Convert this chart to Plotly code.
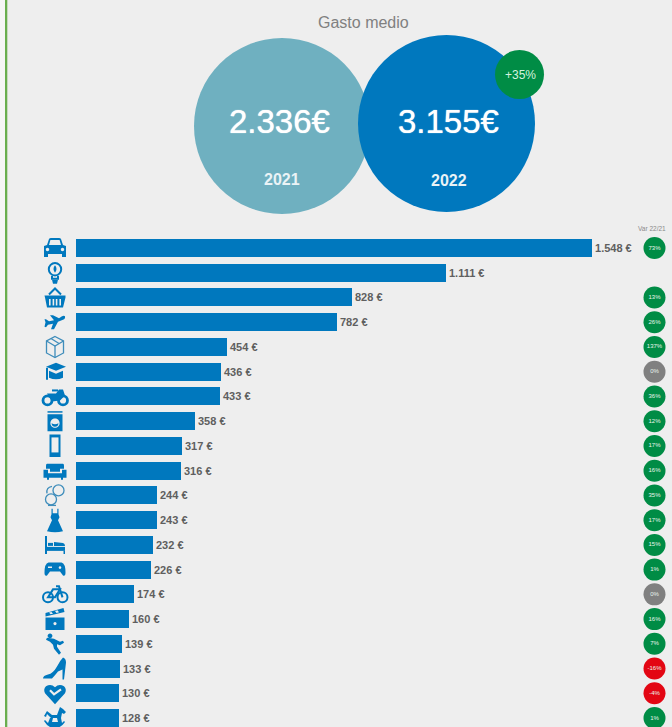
import re
import plotly.graph_objects as go

W, H = 672, 727
FONT = "Liberation Sans"

categories = ["Coche", "Suministros", "Alimentación", "Viajes", "Compras online", "Educación",
              "Moto", "Electrodomésticos", "Móvil", "Hogar", "Bebé", "Ropa", "Dormitorio",
              "Videojuegos", "Bicicleta", "Cine", "Deporte", "Calzado", "Salud", "Juguetes"]
values = [1548, 1111, 828, 782, 454, 436, 433, 358, 317, 316, 244, 243, 232, 226, 174, 160, 139, 133, 130, 128]
variation = [73, None, 13, 26, 137, 0, 36, 12, 17, 16, 35, 17, 15, 1, 0, 16, 7, -16, -4, 1]
years = ["2021", "2022"]
totals = ["2.336€", "3.155€"]

BLUE = "#0078BE"
TEAL = "#6FB0C0"
GREEN = "#008C45"
GREY = "#808080"
RED = "#E30613"
BG = "#EEEEEE"

# pixel mapping of the axes
PX_PER_EUR = 516 / 1548
X0_PX = 76
ROW0 = 248
ROW = 24.74
x_range = [-X0_PX / PX_PER_EUR, (W - X0_PX) / PX_PER_EUR]
y_range = [(H - ROW0) / ROW, -ROW0 / ROW]


def px_x(px):
    return (px - X0_PX) / PX_PER_EUR


def ring(cx, cy, r):
    k = 0.5523 * r
    return (f"M{cx - r} {cy} C{cx - r} {cy - k} {cx - k} {cy - r} {cx} {cy - r} "
            f"C{cx + k} {cy - r} {cx + r} {cy - k} {cx + r} {cy} "
            f"C{cx + r} {cy + k} {cx + k} {cy + r} {cx} {cy + r} "
            f"C{cx - k} {cy + r} {cx - r} {cy + k} {cx - r} {cy} Z ")


def box(x0, y0, x1, y1):
    return f"M{x0} {y0} L{x1} {y0} L{x1} {y1} L{x0} {y1} Z "


icons = [
    # car
    [("f", "M-11 -2 L-8 -3 L-6 -9 Q-5.5 -10 -4 -10 L4 -10 Q5.5 -10 6 -9 L8 -3 L11 -2 L11 9 L7 9 L7 6 L-7 6 L-7 9 L-11 9 Z "
           "M-4.6 -8 L-6 -3 L6 -3 L4.6 -8 Z " + ring(-7.5, 1.5, 1.7) + ring(7.5, 1.5, 1.7))],
    # bulb
    [("s", ring(0, -3.5, 6.2)), ("s", "M-3 3 L-3 6 L3 6 L3 3"), ("f", "M-3 7 L3 7 L2 11 L-2 11 Z"),
     ("f", "M0 -7.5 Q3 -4 0 0 Q-3 -4 0 -7.5 Z")],
    # basket
    [("f", "M-10.5 -2 L10.5 -2 L10.5 0 L8 10 L-8 10 L-10 0 Z " + box(-6, 1.5, -4.4, 8) + box(-2.4, 1.5, -0.8, 8)
      + box(0.8, 1.5, 2.4, 8) + box(4.4, 1.5, 6, 8)), ("s", "M-6 -3 L0 -9 L6 -3")],
    # plane
    [("f", "M10 -6 Q10.5 -3.5 8 -2.5 L3 -0.5 L-1 7 L-4 7 L-2 1.5 L-7 2.5 L-9 5 L-10.5 4.5 L-9.5 0 L-10.5 -3 L-9 -3 "
           "L-6 -1 L-1 -2 L-5 -7 L-2 -7 L4 -4 L7 -6 Q9 -7 10 -6 Z")],
    # parcel
    [("t", "M0 -10.5 L8.5 -6 L8.5 6 L0 10.5 L-8.5 6 L-8.5 -6 Z"), ("t", "M-8.5 -6 L0 -1 L8.5 -6"), ("t", "M0 -1 L0 10.5"),
     ("t", "M-4 -8.5 L4 -3.5")],
    # graduation cap
    [("f", "M1 -9 L11 -5 L1 -1 L-9 -5 Z"), ("f", "M-6 -1 L1 2 L8 -1 L8 6 Q1 9 -6 6 Z"), ("s", "M-8 -4 L-8 8")],
    # motorcycle
    [("w", ring(-7.5, 4, 4.5)), ("w", ring(8, 4, 4.5)), ("f", "M-8 -3 L1 -3 L4 -7 L8 -7 L10 -1 L5 4 L-3 5 Z"),
     ("f", "M-3 -7 L3 -7 L3 -5 L-3 -5 Z")],
    # washing machine
    [("f", box(-7.5, -7, 7.5, 10) + ring(0, 2, 4.6)), ("f", box(-7.5, -10, 7.5, -8.5)), ("f", "M-3.5 2 Q0 4 3.5 2 Q3 5.5 0 5.5 Q-3 5.5 -3.5 2 Z")],
    # phone
    [("s", box(-4.5, -10.5, 4.5, 10)), ("f", box(-4.5, 6.5, 4.5, 10.5)), ("f", box(-4.5, -10.5, 4.5, -8.5))],
    # sofa
    [("f", "M-8 -7 L8 -7 Q9 -7 9 -5 L9 -2 L5 -2 L5 1 L-5 1 L-5 -2 L-9 -2 L-9 -5 Q-9 -7 -8 -7 Z "),
     ("f", "M-11.5 -1 L-7 -1 L-7 2.5 L7 2.5 L7 -1 L11.5 -1 L11.5 7 L8 7 L8 9 L6 9 L6 7 L-6 7 L-6 9 L-8 9 L-8 7 L-11.5 7 Z")],
    # baby
    [("t", ring(3.5, -5, 5.5)), ("t", ring(-4, 4, 5.5)), ("t", "M-8 -2 Q-9 -8 -3 -9"), ("t", "M-7 10 L1 10")],
    # dress
    [("f", "M-3.5 -11.5 L-3.5 -6 L-4.5 -3 L-3 0 L-8 11 Q0 13 8 11 L3 0 L4.5 -3 L3.5 -6 L3.5 -11.5 L2.3 -11.5 "
           "L2.3 -7 L-2.3 -7 L-2.3 -11.5 Z")],
    # bed
    [("f", box(-10, -9, -8, 9)), ("f", box(-7, -2, -2, 1)), ("f", "M-1 -3 L8 -2 Q10 -1.5 10 1 L-1 1 Z"),
     ("f", box(-8, 2, 10, 6)), ("f", box(8.5, 6, 10, 9))],
    # gamepad
    [("f", "M-6.5 -7 L6.5 -7 Q10.5 -6 10.5 3 Q10.5 7 8 6 L5 2 L-5 2 L-8 6 Q-10.5 7 -10.5 3 Q-10.5 -6 -6.5 -7 Z "
      + box(-7, -3, -3, -1.5) + ring(5, -2, 1.3))],
    # bicycle
    [("s", ring(-7, 3, 5)), ("s", ring(7.5, 3, 5)), ("s", "M-7 3 L-2 -5 L5 -5 L0 3 Z"), ("s", "M7.5 3 L4 -8 L1 -8")],
    # clapperboard
    [("f", box(-9.5, -1.5, 9.5, 11) + ring(0, 4.5, 1.6)),
     ("f", "M-9.5 -6 L8.5 -11 L9.5 -7 L-9.5 -2.5 Z M-6 -6.5 L-4.5 -4.8 L-2 -5.3 L-3.5 -7.2 Z M0 -8 L1.5 -6.2 L4 -6.8 L2.5 -8.8 Z")],
    # runner
    [("f", ring(-5, -8, 2.4)), ("f", "M-8 -6 L-1 -5 L5 -2 L8 -3 L9 -1 L5 1.5 L2 0.5 L2 3 L6 9 L4 11 L-1 5 L-2 1 L-5 -2 L-9 -4 Z")],
    # high heel
    [("f", "M8 -11 Q11 -10 11 -6 L9 11 L7.5 11 L7.5 1 L3 3 Q-1 8 -3 10 L-12 10 Q-12 7 -7 6 Q-2 5 2 -2 Q5 -8 8 -11 Z")],
    # heart with tick
    [("f", "M0 11 L-10 0 Q-12 -4 -9 -7 Q-4 -10 0 -6 Q4 -10 9 -7 Q12 -4 10 0 Z"),
     ("c", "M-5 -3 L-1 1 L6 -4")],
    # rocking horse
    [("f", "M5 -11 L8 -9 L11 -6 L9 -4 L7 -5 L6 0 L-4 0 L-8 -4 L-9 -1 L-11 -2 L-8 -7 L-3 -3 L2 -3 Z"),
     ("f", "M-5 0 L-2 0 L-3 4 L3 4 L2 0 L6 0 L7 5 L9 3 L10 4 Q6 10 0 10 Q-7 10 -11 3 L-10 2 L-7 5 Z")],
]


def flip(path):
    """Icon paths are drawn with y downwards; pixel-sized shapes count y upwards."""
    out = []
    for cmd, nums in re.findall(r"([MLQCZ])([^MLQCZ]*)", path):
        vals = nums.split()
        vals = [v if i % 2 == 0 else str(-float(v)) for i, v in enumerate(vals)]
        out.append(cmd + " ".join(vals))
    return " ".join(out)


STROKE = {"s": (BLUE, 2.0), "t": ("#3F8DBB", 1.3), "w": (BLUE, 2.8), "c": (BG, 2.2)}

shapes = []
# page strip and green rule on the left
shapes.append(dict(type="rect", xref="paper", yref="paper", x0=0, x1=5 / W, y0=0, y1=1,
                   fillcolor="#F6F6F6", line_width=0, layer="below"))
shapes.append(dict(type="rect", xref="paper", yref="paper", x0=5 / W, x1=7.3 / W, y0=0, y1=1,
                   fillcolor="#6AAE4F", line_width=0, layer="below"))

for (cx, cy, r, col) in [(282, 126, 88, TEAL), (446.5, 123.5, 88.5, BLUE), (519.5, 74.5, 24.5, GREEN)]:
    shapes.append(dict(type="circle", xref="paper", yref="paper",
                       x0=(cx - r) / W, x1=(cx + r) / W, y0=1 - (cy + r) / H, y1=1 - (cy - r) / H,
                       fillcolor=col, line_width=0))

for i, parts in enumerate(icons):
    for mode, path in parts:
        s = dict(type="path", xref="x", yref="y", xsizemode="pixel", ysizemode="pixel",
                 xanchor=px_x(55), yanchor=i, path=flip(path), fillrule="evenodd")
        if mode == "f":
            s.update(fillcolor=BLUE, line=dict(width=0))
        else:
            col, wd = STROKE[mode]
            s.update(fillcolor="rgba(0,0,0,0)", line=dict(color=col, width=wd))
        shapes.append(s)

fig = go.Figure()

rows = list(range(len(values)))
fig.add_trace(go.Bar(
    x=values, y=rows, orientation="h", width=18 / ROW, marker=dict(color=BLUE, line_width=0),
    text=[f"{v:,}".replace(",", ".") + " €" for v in values], textposition="outside",
    textangle=0, cliponaxis=False, constraintext="none",
    textfont=dict(family=FONT, size=11, color="#5F5F5F", weight="bold"),
    customdata=categories, hovertemplate="%{customdata}: %{x} €<extra></extra>",
))

b_rows = [r for r, v in zip(rows, variation) if v is not None]
b_vals = [v for v in variation if v is not None]
fig.add_trace(go.Scatter(
    x=[px_x(654.5)] * len(b_rows), y=b_rows, mode="markers+text",
    marker=dict(size=22, line_width=0,
                color=[GREY if v == 0 else (RED if v < 0 else GREEN) for v in b_vals]),
    text=[f"{v}%" for v in b_vals], textposition="middle center",
    textfont=dict(family=FONT, size=6, color="#E8F5EC"), cliponaxis=False, hoverinfo="skip",
))


def label(text, x, y, size, color="white", weight="normal", shadow=None):
    font = dict(family=FONT, size=size, color=color, weight=weight)
    if shadow:
        font["shadow"] = shadow
    return dict(text=text, xref="paper", yref="paper", x=x / W, y=1 - y / H, showarrow=False,
                xanchor="center", yanchor="middle", font=font)


annotations = [
    label("Gasto medio", 363, 23, 16, "#808080"),
    label(totals[0], 279.5, 121, 33, shadow="0 0 1px white"),
    label(totals[1], 448, 121, 33, shadow="0 0 1px white"),
    label(years[0], 282, 180, 16, weight="bold", color="#EAF3F6"),
    label(years[1], 449, 180.5, 16, weight="bold", color="#EAF3F6"),
    label("+35%", 520, 75, 12, "#D5F2DF"),
    label("Var 22/21", 652, 228, 6.5, "#8A8A8A"),
]

fig.update_layout(
    width=W, height=H, margin=dict(l=0, r=0, t=0, b=0), autosize=False,
    paper_bgcolor=BG, plot_bgcolor=BG, showlegend=False,
    xaxis=dict(range=x_range, visible=False, fixedrange=True),
    yaxis=dict(range=y_range, visible=False, fixedrange=True),
    shapes=shapes, annotations=annotations, bargap=0,
)

fig.write_html("out.html", config=dict(displayModeBar=False),
               post_script="document.body.style.margin='0';document.body.style.overflow='hidden';")
